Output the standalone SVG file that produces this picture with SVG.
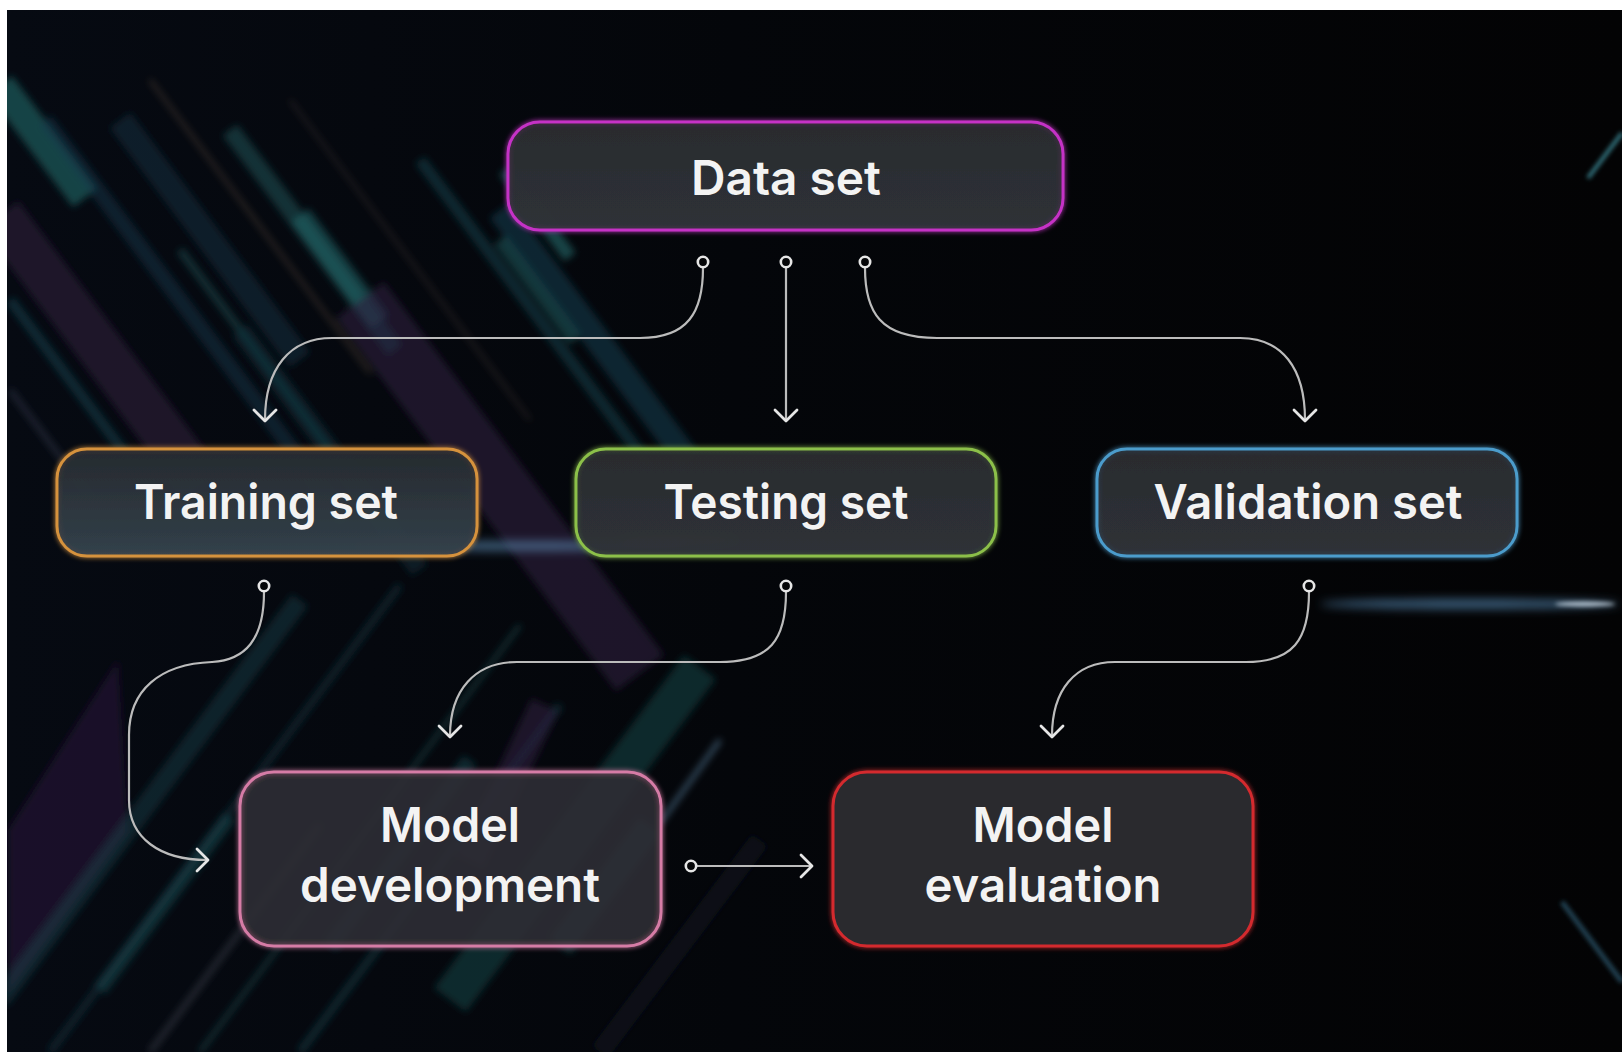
<svg xmlns="http://www.w3.org/2000/svg" width="1622" height="1052" viewBox="0 0 1622 1052">
  <defs>
    <style>
      .box { stroke-width: 3; }
      .lbl { font-family: Inter, "Liberation Sans", sans-serif; font-weight: 600; font-size: 48px; fill: #f3f3f3; text-anchor: middle; }
      .conn { fill: none; stroke: #bcbcbc; stroke-width: 2.2; }
      .dot { fill: #050608; stroke: #e6e6e6; stroke-width: 2.6; }
      .head { fill: none; stroke: #e6e6e6; stroke-width: 2.8; stroke-linecap: round; stroke-linejoin: round; }
      .st { fill: none; stroke-linecap: butt; }
    </style>
    <clipPath id="frame">
      <rect x="7" y="10" width="1615" height="1042"/>
    </clipPath>
    <linearGradient id="bg" x1="0" y1="0" x2="1" y2="0">
      <stop offset="0" stop-color="#060a12"/>
      <stop offset="0.45" stop-color="#04060a"/>
      <stop offset="1" stop-color="#030304"/>
    </linearGradient>
    <linearGradient id="boxfill" x1="0" y1="0" x2="0" y2="1">
      <stop offset="0" stop-color="#2a2b2f" stop-opacity="0.9"/>
      <stop offset="1" stop-color="#2e3238" stop-opacity="0.88"/>
    </linearGradient>
    <linearGradient id="trainfill" x1="0" y1="0" x2="0" y2="1">
      <stop offset="0" stop-color="#262a2f" stop-opacity="0.92"/>
      <stop offset="1" stop-color="#33414b" stop-opacity="0.92"/>
    </linearGradient>
    <filter id="soft" x="-20%" y="-20%" width="140%" height="140%">
      <feGaussianBlur stdDeviation="3.5"/>
    </filter>
    <filter id="soft2" x="-50%" y="-300%" width="200%" height="700%">
      <feGaussianBlur stdDeviation="2"/>
    </filter>
    <filter id="blur6" x="-50%" y="-300%" width="200%" height="700%">
      <feGaussianBlur stdDeviation="5"/>
    </filter>
    <filter id="glow" x="-10%" y="-20%" width="120%" height="140%">
      <feGaussianBlur in="SourceGraphic" stdDeviation="2.5" result="b"/>
      <feMerge><feMergeNode in="b"/><feMergeNode in="SourceGraphic"/></feMerge>
    </filter>
  </defs>

  <!-- frame and background -->
  <rect x="0" y="0" width="1622" height="1052" fill="#ffffff"/>
  <rect x="7" y="10" width="1615" height="1042" fill="url(#bg)"/>

  <!-- background streaks -->
  <g id="streaks" clip-path="url(#frame)">
    <g filter="url(#soft)">
      <!-- upper-left, running down-right -->
      <line class="st" x1="0" y1="85" x2="85" y2="198" stroke="#1f5c5c" stroke-width="30" stroke-opacity="0.7"/>
      <line class="st" x1="0" y1="215" x2="200" y2="482" stroke="#2a1838" stroke-width="46" stroke-opacity="0.65"/>
      <line class="st" x1="10" y1="300" x2="150" y2="487" stroke="#1a4a56" stroke-width="10" stroke-opacity="0.5"/>
      <line class="st" x1="45" y1="120" x2="345" y2="520" stroke="#173a50" stroke-width="16" stroke-opacity="0.45"/>
      <line class="st" x1="150" y1="80" x2="370" y2="373" stroke="#8a6a50" stroke-width="2.5" stroke-opacity="0.45"/>
      <line class="st" x1="290" y1="100" x2="530" y2="420" stroke="#7a6254" stroke-width="2" stroke-opacity="0.4"/>
      <line class="st" x1="230" y1="130" x2="395" y2="350" stroke="#1d5a5c" stroke-width="18" stroke-opacity="0.5"/>
      <line class="st" x1="300" y1="215" x2="380" y2="322" stroke="#256e70" stroke-width="22" stroke-opacity="0.5"/>
      <line class="st" x1="120" y1="120" x2="300" y2="360" stroke="#16323f" stroke-width="26" stroke-opacity="0.5"/>
      <line class="st" x1="360" y1="300" x2="640" y2="673" stroke="#2c1a3e" stroke-width="60" stroke-opacity="0.6"/>
      <line class="st" x1="420" y1="160" x2="650" y2="467" stroke="#1a4e5c" stroke-width="12" stroke-opacity="0.45"/>
      <line class="st" x1="500" y1="210" x2="690" y2="463" stroke="#1b4a60" stroke-width="26" stroke-opacity="0.45"/>
      <line class="st" x1="500" y1="240" x2="575" y2="340" stroke="#2a7a7e" stroke-width="14" stroke-opacity="0.4"/>
      <line class="st" x1="180" y1="250" x2="330" y2="450" stroke="#1e5c5e" stroke-width="8" stroke-opacity="0.45"/>
      <line class="st" x1="240" y1="330" x2="420" y2="570" stroke="#12303e" stroke-width="20" stroke-opacity="0.45"/>
      <line class="st" x1="10" y1="390" x2="95" y2="503" stroke="#3a3f55" stroke-width="6" stroke-opacity="0.45"/>
      <line class="st" x1="505" y1="170" x2="570" y2="257" stroke="#2a8080" stroke-width="14" stroke-opacity="0.5"/>

      <!-- lower-left, running up-right -->
      <polygon points="118,660 128,832 8,995 8,830" fill="#2a1838" fill-opacity="0.6"/>
      <line class="st" x1="0" y1="1000" x2="300" y2="600" stroke="#16434a" stroke-width="20" stroke-opacity="0.45"/>
      <line class="st" x1="50" y1="1052" x2="400" y2="585" stroke="#153a48" stroke-width="8" stroke-opacity="0.45"/>
      <line class="st" x1="200" y1="1052" x2="520" y2="625" stroke="#1e6060" stroke-width="4" stroke-opacity="0.5"/>
      <line class="st" x1="300" y1="1052" x2="560" y2="705" stroke="#1a4a55" stroke-width="8" stroke-opacity="0.45"/>
      <line class="st" x1="150" y1="1052" x2="320" y2="825" stroke="#4e545e" stroke-width="6" stroke-opacity="0.4"/>
      <line class="st" x1="450" y1="1000" x2="700" y2="667" stroke="#1a5252" stroke-width="40" stroke-opacity="0.45"/>
      <line class="st" x1="470" y1="862" x2="545" y2="705" stroke="#2e1b3c" stroke-width="30" stroke-opacity="0.6"/>
      <line class="st" x1="560" y1="946" x2="650" y2="826" stroke="#1f6464" stroke-width="26" stroke-opacity="0.5"/>
      <line class="st" x1="330" y1="946" x2="470" y2="760" stroke="#1a4e58" stroke-width="16" stroke-opacity="0.45"/>
      <line class="st" x1="660" y1="823" x2="720" y2="740" stroke="#6a9ac0" stroke-width="4" stroke-opacity="0.55"/>
      <line class="st" x1="100" y1="990" x2="230" y2="817" stroke="#1c5a5c" stroke-width="14" stroke-opacity="0.4"/>
      <line class="st" x1="600" y1="1052" x2="760" y2="840" stroke="#101c26" stroke-width="20" stroke-opacity="0.5"/>
    </g>
    <g filter="url(#soft2)">
      <!-- right side -->
      <line class="st" x1="1588" y1="178" x2="1622" y2="133" stroke="#3f8e9c" stroke-width="4" stroke-opacity="0.8"/>
      <line class="st" x1="1562" y1="902" x2="1622" y2="982" stroke="#2c5d74" stroke-width="5" stroke-opacity="0.7"/>
    </g>
  </g>

  <!-- light flares -->
  <g id="flares">
    <ellipse cx="1470" cy="604" rx="150" ry="5" fill="#4f7fa6" fill-opacity="0.7" filter="url(#blur6)"/>
    <ellipse cx="1585" cy="604" rx="30" ry="2.5" fill="#d4e4f0" fill-opacity="0.8" filter="url(#soft2)"/>
    <ellipse cx="520" cy="546" rx="170" ry="5" fill="#5e8cb4" fill-opacity="0.6" filter="url(#blur6)"/>
    <ellipse cx="680" cy="540" rx="60" ry="6" fill="#c8d8e4" fill-opacity="0.35" filter="url(#blur6)"/>
  </g>

  <!-- nodes -->
  <g id="nodes">
    <g id="node-dataset">
      <rect class="box" x="508" y="122" width="555" height="108" rx="32" fill="url(#boxfill)" stroke="#c531c6" filter="url(#glow)"/>
      <text class="lbl" x="786" y="195" textLength="190" lengthAdjust="spacingAndGlyphs">Data set</text>
    </g>
    <g id="node-training">
      <rect class="box" x="57" y="449" width="420" height="107" rx="30" fill="url(#trainfill)" stroke="#d6923c" filter="url(#glow)"/>
      <text class="lbl" x="266" y="519" textLength="264" lengthAdjust="spacingAndGlyphs">Training set</text>
    </g>
    <g id="node-testing">
      <rect class="box" x="576" y="449" width="420" height="107" rx="30" fill="url(#boxfill)" stroke="#8cc04a" filter="url(#glow)"/>
      <text class="lbl" x="786" y="519" textLength="245" lengthAdjust="spacingAndGlyphs">Testing set</text>
    </g>
    <g id="node-validation">
      <rect class="box" x="1097" y="449" width="420" height="107" rx="30" fill="url(#boxfill)" stroke="#4c9ccc" filter="url(#glow)"/>
      <text class="lbl" x="1308" y="519" textLength="309" lengthAdjust="spacingAndGlyphs">Validation set</text>
    </g>
    <g id="node-model-development">
      <rect class="box" x="240" y="772" width="421" height="174" rx="34" fill="#2c2d33" fill-opacity="0.7" stroke="#d67ca6" filter="url(#glow)"/>
      <text class="lbl" x="450" y="842" textLength="140" lengthAdjust="spacingAndGlyphs">Model</text>
      <text class="lbl" x="450" y="902" textLength="300" lengthAdjust="spacingAndGlyphs">development</text>
    </g>
    <g id="node-model-evaluation">
      <rect class="box" x="833" y="772" width="420" height="174" rx="34" fill="#2a2b2e" stroke="#d42a2e" filter="url(#glow)"/>
      <text class="lbl" x="1043" y="842" textLength="141" lengthAdjust="spacingAndGlyphs">Model</text>
      <text class="lbl" x="1043" y="902" textLength="237" lengthAdjust="spacingAndGlyphs">evaluation</text>
    </g>
  </g>

  <!-- connectors -->
  <g id="connectors">
    <path class="conn" d="M703,268 C703,312 688,338 640,338 H332 C290,338 265,368 265,420"/>
    <circle class="dot" cx="703" cy="262" r="5.2"/>
    <polyline class="head" points="254,410 265,421 276,410"/>

    <path class="conn" d="M786,268 V420"/>
    <circle class="dot" cx="786" cy="262" r="5.2"/>
    <polyline class="head" points="775,410 786,421 797,410"/>

    <path class="conn" d="M865,268 C865,312 880,338 937,338 H1240 C1282,338 1305,368 1305,420"/>
    <circle class="dot" cx="865" cy="262" r="5.2"/>
    <polyline class="head" points="1294,410 1305,421 1316,410"/>

    <path class="conn" d="M264,592 C264,640 245,660 212,662 C160,664 129,690 129,735 V800 C129,838 160,860 207,860"/>
    <circle class="dot" cx="264" cy="586" r="5.2"/>
    <polyline class="head" points="197,849 208,860 197,871"/>

    <path class="conn" d="M786,592 C786,640 770,662 720,662 H517 C475,662 450,690 450,736"/>
    <circle class="dot" cx="786" cy="586" r="5.2"/>
    <polyline class="head" points="439,726 450,737 461,726"/>

    <path class="conn" d="M1309,592 C1309,640 1293,662 1246,662 H1115 C1075,662 1052,690 1052,736"/>
    <circle class="dot" cx="1309" cy="586" r="5.2"/>
    <polyline class="head" points="1041,726 1052,737 1063,726"/>

    <path class="conn" d="M697,866 H812"/>
    <circle class="dot" cx="691" cy="866" r="5.2"/>
    <polyline class="head" points="801,855 812,866 801,877"/>
  </g>
</svg>
